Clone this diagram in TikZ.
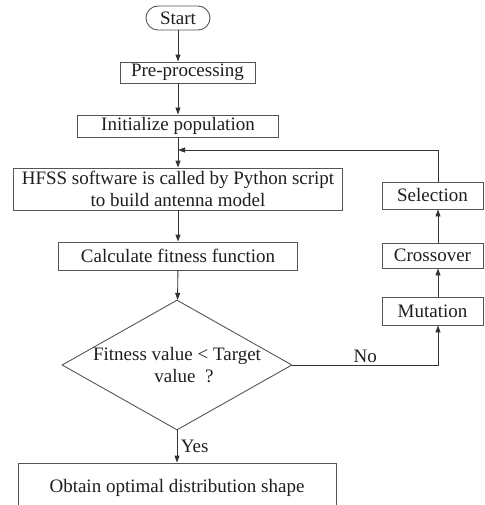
\documentclass[tikz,border=0pt]{standalone}
\usepackage{fontspec}
\setmainfont{Liberation Serif}
\usetikzlibrary{arrows.meta, positioning, shapes.geometric}
\definecolor{linegray}{RGB}{85,85,85}
\definecolor{textgray}{RGB}{30,30,30}

\begin{document}
\begin{tikzpicture}[x=1pt, y=-1pt,
    box/.style={draw=linegray, line width=0.9pt, rectangle, inner sep=0pt,
                font=\fontsize{19}{22}\selectfont, text=textgray, align=center},
    pill/.style={box, rounded corners=12pt},
    decision/.style={draw=linegray, line width=0.9pt, diamond, inner sep=0pt,
                     minimum width=230pt, minimum height=130pt},
    flow/.style={draw=black!80, line width=0.9pt, -{Triangle[length=7pt,width=5pt]}},
    lbl/.style={font=\fontsize{19}{22}\selectfont, text=textgray}]
    \clip (0,0) rectangle (484,505);

    % ---- COLONNA PRINCIPALE ----
    \node[pill, minimum width=64pt, minimum height=24pt] (start) at (178,18) {Start};
    \node[box, minimum width=135pt, minimum height=21pt] (pre) at (187.5,72.5) {Pre-processing};
    \node[box, minimum width=201pt, minimum height=22pt] (init) at (178,126) {Initialize population};
    \node[box, minimum width=329pt, minimum height=42pt] (hfss) at (178,189)
        {HFSS software is called by Python script\\to build antenna model};
    \node[box, minimum width=239pt, minimum height=28pt] (calc) at (178,256) {Calculate fitness function};
    \node[decision, label={[lbl, align=center]center:Fitness value < Target\\\hspace*{14pt}value\ \ ?}]
        (dec) at (177,365) {};
    \node[box, minimum width=318pt, minimum height=50pt] (obt) at (177,488) {Obtain optimal distribution shape};

    % ---- COLONNA DESTRA ----
    \node[box, minimum width=101pt, minimum height=27pt] (sel) at (432.5,195.5) {Selection};
    \node[box, minimum width=101pt, minimum height=25pt] (cro) at (432.5,255.5) {Crossover};
    \node[box, minimum width=101pt, minimum height=28pt] (mut) at (432.5,311) {Mutation};
    \coordinate (rx) at (438,0);
    \coordinate (fb) at (178,150);

    % ---- FRECCE ----
    \draw[flow] (start.south) -- (start.south |- pre.north);
    \draw[flow] (pre.south -| start) -- (init.north);
    \draw[flow] (init) -- (hfss);
    \draw[flow] (hfss) -- (calc);
    \draw[flow] (calc) -- (dec);
    \draw[flow] (dec) -- (obt) node[midway, right, lbl] {Yes};
    \draw[flow] (dec.east) -| (mut.south -| rx) node[pos=0.25, above=-1pt, lbl] {No};
    \draw[flow] (mut.north -| rx) -- (cro.south -| rx);
    \draw[flow] (cro.north -| rx) -- (sel.south -| rx);
    \draw[flow] (sel.north -| rx) |- (fb);
\end{tikzpicture}
\end{document}
